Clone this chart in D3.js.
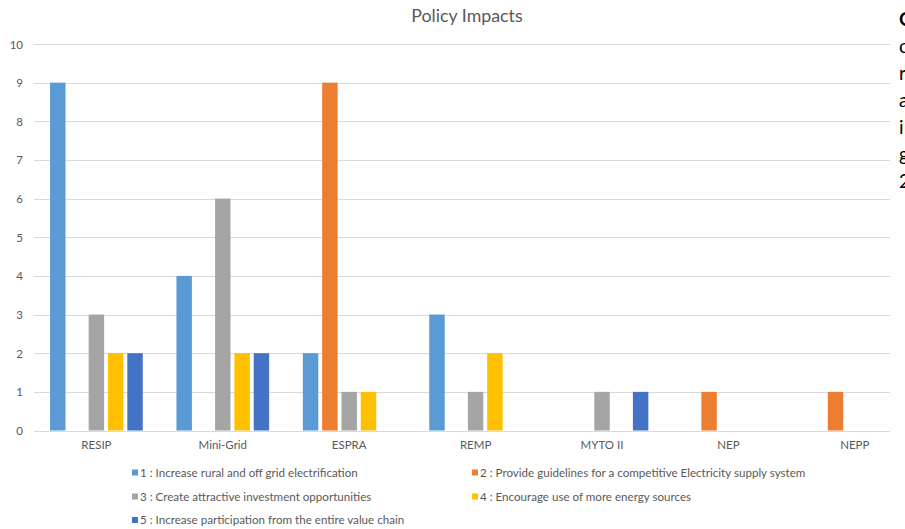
<!DOCTYPE html>
<html>
<head>
<meta charset="utf-8">
<script src="https://cdn.jsdelivr.net/npm/d3@7/dist/d3.min.js"></script>
<style>
  html, body { margin: 0; padding: 0; background: #fff; }
  svg { display: block; }
  text { font-family: Lato, "Open Sans", sans-serif; }
</style>
</head>
<body>
<script>
// Policy impact counts per policy instrument
const categories = ["RESIP", "Mini-Grid", "ESPRA", "REMP", "MYTO II", "NEP", "NEPP"];
const seriesNames = [
  "1 : Increase rural and off grid electrification",
  "2 : Provide guidelines for a competitive Electricity supply system",
  "3 : Create attractive investment opportunities",
  "4 : Encourage use of more energy sources",
  "5 : Increase participation from the entire value chain"
];
const s1 = [9, 4, 2, 3, 0, 0, 0];
const s2 = [0, 0, 9, 0, 0, 1, 1];
const s3 = [3, 6, 1, 1, 1, 0, 0];
const s4 = [2, 2, 1, 2, 0, 0, 0];
const s5 = [2, 2, 0, 0, 1, 0, 0];
const seriesValues = [s1, s2, s3, s4, s5];
const colors = ["#5B9BD5", "#ED7D31", "#A5A5A5", "#FFC000", "#4472C4"];
const yTicks = [0, 1, 2, 3, 4, 5, 6, 7, 8, 9, 10];
const sideText = ["O", "c", "r", "a", "i", "g", "2"];

const W = 905, H = 529;
const svg = d3.select("body").append("svg").attr("width", W).attr("height", H);

const plotLeft = 34, gridRight = 890;
const x0 = d3.scaleBand().domain(categories).range([33.2, 33.2 + 7 * 126.4]).padding(0);
const groupW = 92.7;
const x1 = d3.scaleBand().domain(d3.range(seriesNames.length))
  .range([0, groupW]).paddingInner(0.2).paddingOuter(0);
const y = d3.scaleLinear().domain([0, 10]).range([430.5, 44]);

// title
svg.append("text").attr("x", 467).attr("y", 22).attr("text-anchor", "middle")
  .attr("font-size", 17.8).attr("fill", "#595959").text("Policy Impacts");

// gridlines
svg.append("g").selectAll("line").data(yTicks).join("line")
  .attr("x1", plotLeft).attr("x2", gridRight)
  .attr("y1", d => Math.round(y(d)) + 0.5).attr("y2", d => Math.round(y(d)) + 0.5)
  .attr("stroke", "#d9d9d9").attr("stroke-width", 1);

// y axis labels
const yAxis = d3.axisLeft(y).tickValues(yTicks).tickSize(0).tickPadding(0);
const gy = svg.append("g").attr("transform", "translate(23,0)").call(yAxis);
gy.select(".domain").remove();
gy.selectAll("text").attr("font-family", "Lato, sans-serif").attr("font-size", 11.5)
  .attr("fill", "#595959").attr("dy", "0.35em");

// bars
const groups = svg.append("g").selectAll("g").data(categories).join("g")
  .attr("transform", d => `translate(${x0(d) + (x0.bandwidth() - groupW) / 2},0)`);
groups.selectAll("rect")
  .data((c, ci) => seriesValues.map((vals, si) => ({ si, v: vals[ci] })).filter(d => d.v > 0))
  .join("rect")
  .attr("x", d => x1(d.si)).attr("width", x1.bandwidth())
  .attr("y", d => y(d.v)).attr("height", d => y(0) - y(d.v))
  .attr("fill", d => colors[d.si]);

// x axis labels
const xAxis = d3.axisBottom(x0).tickSize(0).tickPadding(0);
const gx = svg.append("g").attr("transform", "translate(0,441)").call(xAxis);
gx.select(".domain").remove();
gx.selectAll("text").attr("font-family", "Lato, sans-serif").attr("font-size", 11.5)
  .attr("fill", "#595959").attr("dy", "0.71em");

// legend
const legendPos = [[132, 472.5], [472, 472.5], [132, 496.5], [472, 496.5], [132, 520]];
const lg = svg.append("g").selectAll("g").data(seriesNames).join("g")
  .attr("transform", (d, i) => `translate(${legendPos[i][0]},${legendPos[i][1]})`);
lg.append("rect").attr("x", 0).attr("y", -3).attr("width", 6).attr("height", 6)
  .attr("fill", (d, i) => colors[i]);
lg.append("text").attr("x", 8).attr("y", 0).attr("dy", "0.35em")
  .attr("font-size", 11.6).attr("fill", "#595959").text(d => d);

// text column at the right edge
svg.append("g").selectAll("text").data(sideText).join("text")
  .attr("x", 899).attr("y", (d, i) => 26 + i * 27)
  .attr("font-size", 19).attr("fill", "#000")
  .attr("font-weight", (d, i) => i === 0 ? "bold" : "normal")
  .text(d => d);
</script>
</body>
</html>
